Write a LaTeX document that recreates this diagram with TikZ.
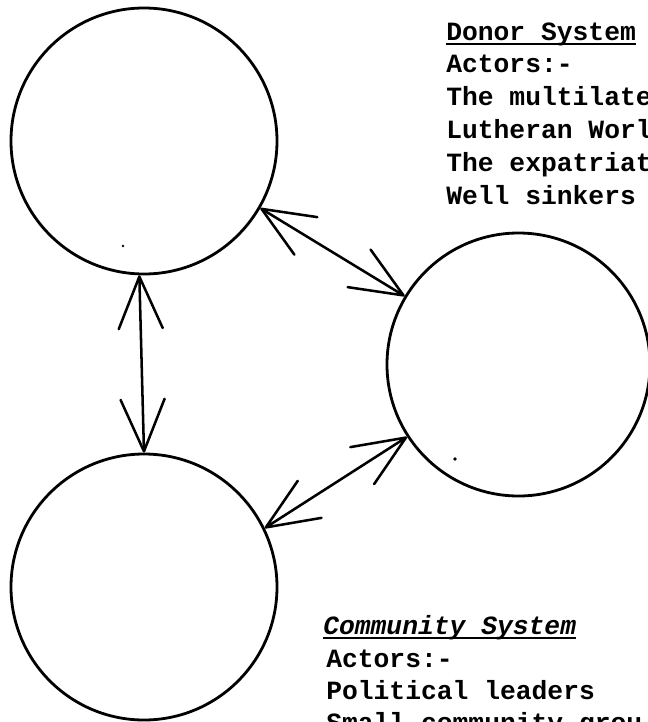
\documentclass[tikz,border=0pt]{standalone}
\usepackage{fontspec}
\newfontfamily\tw{Liberation Mono}
\usetikzlibrary{arrows.meta}
\begin{document}
\begin{tikzpicture}[x=0.75pt,y=-0.75pt,
  sys/.style={circle,draw,line width=2.1pt,inner sep=0pt},
  link/.style={line width=1.9pt,
    arrows={Straight Barb[length=39pt,width=33pt,round]-Straight Barb[length=39pt,width=33pt,round]}},
  txt/.style={anchor=base west,inner sep=0pt,font=\tw\bfseries\fontsize{19.75}{24}\selectfont},
  uline/.style={line width=1.6pt}]
\useasboundingbox (0,0) rectangle (648,722);
\begin{scope}
\clip (0,0) rectangle (648,722);
% systems
\node[sys,minimum size=199.5pt] (A) at (144,141) {};
\node[sys,minimum size=197.25pt] (B) at (518.5,364.5) {};
\node[sys,minimum size=199.5pt] (C) at (144,587) {};
% specks
\fill (123,246) circle (1.1pt);
\fill (455,459) circle (1.4pt);
% links
\draw[link] (A.330) -- (B.149);
\draw[link] (A.268) -- (C.90);
\draw[link] (C.26) -- (B.213);
% donor text
\node[txt] (dh) at (446,40) {Donor System};
\draw[uline] ([yshift=-3pt]dh.base west) -- ([yshift=-3pt]dh.base east);
\node[txt] (d1) at (446,72.5) {Actors:-};
\node[txt] (d2) at (446,105) {The multilate};
\node[txt] (d3) at (446,138) {Lutheran Worl};
\node[txt] (d4) at (446,171) {The expatriat};
\node[txt] (d5) at (446,204) {Well sinkers};
% community text
\node[txt,font=\tw\bfseries\itshape\fontsize{19.75}{24}\selectfont] (ch) at (323,634) {Community System};
\draw[uline] ([yshift=-3pt]ch.base west) -- ([yshift=-3pt]ch.base east);
\node[txt] (c1) at (326,667) {Actors:-};
\node[txt] (c2) at (326,699) {Political leaders};
\node[txt] (c3) at (326,731) {Small community grou};
\end{scope}
\end{tikzpicture}
\end{document}
